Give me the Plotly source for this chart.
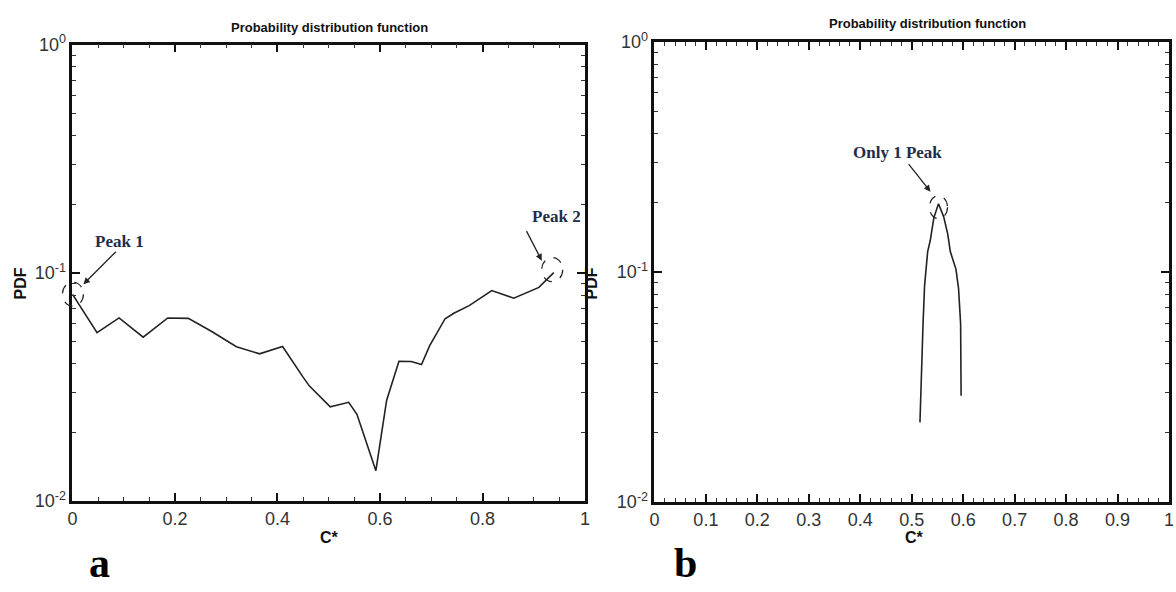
import math
import plotly.graph_objects as go

# ---------------- data ----------------
left_c = [0.0, 0.048, 0.091, 0.138, 0.186, 0.226, 0.271, 0.320, 0.365, 0.410,
          0.449, 0.462, 0.503, 0.539, 0.555, 0.592, 0.613, 0.637, 0.661, 0.681,
          0.697, 0.727, 0.745, 0.774, 0.818, 0.861, 0.910, 0.926, 0.939]
left_pdf = [0.0807, 0.0547, 0.0635, 0.0523, 0.0635, 0.0632, 0.0555, 0.0475, 0.0442, 0.0476,
            0.0352, 0.0320, 0.0259, 0.0271, 0.0240, 0.0136, 0.0277, 0.0410, 0.0409, 0.0397,
            0.0480, 0.0630, 0.0667, 0.0719, 0.0837, 0.0775, 0.0864, 0.0935, 0.1003]

right_c = [0.516, 0.518, 0.522, 0.525, 0.527, 0.531, 0.536, 0.543, 0.552, 0.562,
           0.570, 0.575, 0.586, 0.591, 0.595, 0.596]
right_pdf = [0.0222, 0.0335, 0.0596, 0.0875, 0.0964, 0.1226, 0.137, 0.172, 0.198, 0.174,
             0.146, 0.1226, 0.1027, 0.0848, 0.0596, 0.029]

y_tickvals = [0.01, 0.1, 1]
y_ticktext = ["10<sup>-2</sup>", "10<sup>-1</sup>", "10<sup>0</sup>"]
y_minor = [m * 10 ** e for e in (-2, -1) for m in range(2, 10)]
left_xticks = [0, 0.2, 0.4, 0.6, 0.8, 1]
right_xticks = [0, 0.1, 0.2, 0.3, 0.4, 0.5, 0.6, 0.7, 0.8, 0.9, 1]

TITLE = "Probability distribution function"

# ---------------- figure ----------------
W, H = 1176, 592


def px(x):
    return x / W


def py(y):
    return 1 - y / H


XDOM_L = [px(68), px(585)]
YDOM_L = [py(508), py(34)]
XDOM_R = [px(655), px(1174)]
YDOM_R = [py(509), py(31)]
YRANGE = [-2, 0]


def to_paper(xv, yv, xdom, ydom):
    """data -> paper coordinates (linear x in [0,1], log y)"""
    xp = xdom[0] + xv * (xdom[1] - xdom[0])
    yp = ydom[0] + (math.log10(yv) - YRANGE[0]) / (YRANGE[1] - YRANGE[0]) * (ydom[1] - ydom[0])
    return xp, yp


fig = go.Figure()
fig.add_trace(go.Scatter(x=left_c, y=left_pdf, mode="lines",
                         line=dict(color="#222222", width=1.6),
                         xaxis="x", yaxis="y", showlegend=False))
fig.add_trace(go.Scatter(x=right_c, y=right_pdf, mode="lines",
                         line=dict(color="#222222", width=1.6),
                         xaxis="x2", yaxis="y2", showlegend=False))

tick_font = dict(family="Liberation Sans, Arial, sans-serif", size=18, color="#333333")


def xaxis(domain, anchor, ticks, minor_dt):
    return dict(domain=domain, anchor=anchor, range=[0, 1], tickmode="array",
                tickvals=ticks, ticks="inside", ticklen=8, tickwidth=2,
                tickcolor="#111", showline=True, linecolor="#111", linewidth=2.5,
                mirror="allticks", showgrid=False, zeroline=False,
                tickfont=tick_font,
                minor=dict(dtick=minor_dt, tick0=0, ticks="inside", ticklen=4,
                           tickwidth=1, tickcolor="#333", showgrid=False))


def yaxis(domain, anchor):
    return dict(domain=domain, anchor=anchor, type="log", range=YRANGE,
                tickmode="array", tickvals=y_tickvals, ticktext=y_ticktext,
                ticks="inside", ticklen=8, tickwidth=2, tickcolor="#111",
                showline=True, linecolor="#111", linewidth=2.5, mirror="allticks",
                showgrid=False, zeroline=False, tickfont=tick_font,
                minor=dict(tickmode="array", tickvals=y_minor, ticks="inside",
                           ticklen=4, tickwidth=1, tickcolor="#333", showgrid=False))


fig.update_layout(
    width=W, height=H, autosize=False,
    margin=dict(l=0, r=0, t=0, b=0),
    paper_bgcolor="white", plot_bgcolor="white",
    xaxis=xaxis(XDOM_L, "y", left_xticks, 0.05),
    yaxis=yaxis(YDOM_L, "x"),
    xaxis2=xaxis(XDOM_R, "y2", right_xticks, 0.02),
    yaxis2=yaxis(YDOM_R, "x2"),
)

ann = []
bold = dict(family="Liberation Sans, Arial, sans-serif", color="#111")


def label(text, x, y, font, angle=0):
    return dict(text=text, x=px(x), y=py(y), xref="paper", yref="paper",
                xanchor="center", yanchor="middle", showarrow=False,
                textangle=angle, font=font)


# titles
ann.append(label("<b>" + TITLE + "</b>", 327, 16, dict(size=13, **bold)))
ann.append(label("<b>" + TITLE + "</b>", 930, 12, dict(size=13, **bold)))
# axis titles
for xp in (16, 592):
    ann.append(label("<b>PDF</b>", xp, 282, dict(size=16, **bold), angle=-90))
for xp in (327, 917):
    ann.append(label("<b>C*</b>", xp, 546, dict(size=16, **bold)))
# panel letters
serif_big = dict(family="Liberation Serif, Times New Roman, serif", size=42, color="#000")
ann.append(label("<b>a</b>", 95, 572, serif_big))
ann.append(label("<b>b</b>", 686, 572, serif_big))

# peak labels
peak_font = dict(family="Liberation Serif, Times New Roman, serif", size=17, color="#1f2d4d")
ann.append(label("<b>Peak 1</b>", 115, 238, peak_font))
ann.append(label("<b>Peak 2</b>", 556, 212, peak_font))
ann.append(label("<b>Only 1 Peak</b>", 900, 146, peak_font))

# arrows anchored on the peak data points
p1 = (left_c[0], left_pdf[0])
p2 = (left_c[-1], left_pdf[-1])
ipk = right_pdf.index(max(right_pdf))
p3 = (right_c[ipk], right_pdf[ipk])
arrow_style = dict(showarrow=True, arrowhead=2, arrowsize=1, arrowwidth=1.3,
                   arrowcolor="#222", text="")
ann.append(dict(x=p1[0], y=math.log10(p1[1]), xref="x", yref="y", xshift=11, yshift=10,
                ax=34, ay=-34, **arrow_style))
ann.append(dict(x=p2[0], y=math.log10(p2[1]), xref="x", yref="y", xshift=-12, yshift=12,
                ax=-16, ay=-31, **arrow_style))
ann.append(dict(x=p3[0], y=math.log10(p3[1]), xref="x2", yref="y2", xshift=-8, yshift=12,
                ax=-23, ay=-29, **arrow_style))
fig.update_layout(annotations=ann)

# dashed circles around peaks (pixel-sized, anchored on the peak points, not clipped)
circ = dict(type="circle", xref="paper", yref="paper", xsizemode="pixel", ysizemode="pixel",
            line=dict(color="#222", width=1.2, dash="dash"), layer="above")
for (pt, xdom, ydom, box) in [
        (p1, XDOM_L, YDOM_L, (-10, 11, -12, 12)),
        (p2, XDOM_L, YDOM_L, (-12, 9, -9, 15)),
        (p3, XDOM_R, YDOM_R, (-9, 9, -15, 8))]:
    xa, ya = to_paper(pt[0], pt[1], xdom, ydom)
    fig.add_shape(xanchor=xa, yanchor=ya, x0=box[0], x1=box[1], y0=box[2], y1=box[3], **circ)

fig.write_html("out.html", config={"displayModeBar": False},
               post_script="document.body.style.margin='0px';")
